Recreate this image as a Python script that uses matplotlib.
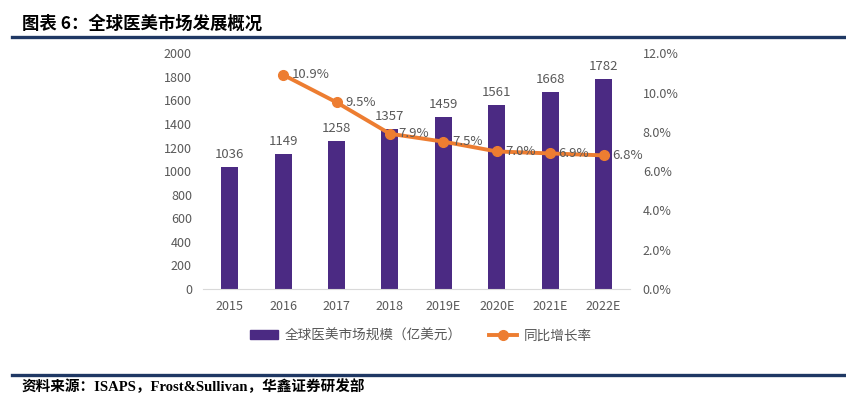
import numpy as np
import matplotlib.pyplot as plt
from matplotlib.lines import Line2D
from matplotlib.patches import Patch

plt.rcParams['font.family'] = ['Noto Sans CJK SC', 'DejaVu Sans']

# data
years = ['2015', '2016', '2017', '2018', '2019E', '2020E', '2021E', '2022E']
market = [1036, 1149, 1258, 1357, 1459, 1561, 1668, 1782]
growth = [None, 10.9, 9.5, 7.9, 7.5, 7.0, 6.9, 6.8]

bar_color = '#4B2A83'
line_color = '#ED7D31'
txt = '#595959'

fig = plt.figure(figsize=(8.46, 3.97), dpi=100)
ax = fig.add_axes([0.24, 0.272, 0.505, 0.594])
x = np.arange(len(years))
ax.bar(x, market, width=0.32, color=bar_color, zorder=2)
for xi, v in zip(x, market):
    ax.text(xi, v + 50, str(v), ha='center', va='bottom', fontsize=9.5, color=txt)
ax.set_ylim(0, 2000)
ax.set_yticks(range(0, 2001, 200))
ax.set_xlim(-0.5, len(years) - 0.5)
ax.set_xticks(x)
ax.set_xticklabels(years)
ax.tick_params(axis='both', length=0, labelsize=9, colors=txt)
ax.tick_params(axis='x', pad=8)
ax.tick_params(axis='y', pad=8)
for s in ['top', 'right', 'left']:
    ax.spines[s].set_visible(False)
ax.spines['bottom'].set_color('#D9D9D9')

ax2 = ax.twinx()
gx = [xi for xi, g in zip(x, growth) if g is not None]
gy = [g for g in growth if g is not None]
ax2.plot(gx, gy, color=line_color, lw=2.8, marker='o', ms=7, zorder=3)
for xi, g in zip(gx, gy):
    ax2.text(xi + 0.16, g, f'{g:.1f}%', ha='left', va='center', fontsize=9.5, color=txt)
ax2.set_ylim(0, 12)
ax2.set_yticks(np.arange(0, 12.1, 2))
ax2.set_yticklabels([f'{v:.1f}%' for v in np.arange(0, 12.1, 2)])
ax2.tick_params(axis='y', length=0, labelsize=9, colors=txt, pad=9)
for s in ['top', 'right', 'left', 'bottom']:
    ax2.spines[s].set_visible(False)

handles = [Patch(color=bar_color),
           Line2D([], [], color=line_color, lw=2.8, marker='o', ms=7)]
labels = ['全球医美市场规模（亿美元）', '同比增长率']
fig.legend(handles, labels, loc='center', bbox_to_anchor=(0.497, 0.155), ncol=2,
           frameon=False, fontsize=9.8, labelcolor=txt, handlelength=2.1,
           columnspacing=2.0, handletextpad=0.45)

# title and source
fig.text(0.026, 0.94, '图表 6：全球医美市场发展概况', fontsize=12.5, fontweight='bold',
         ha='left', va='center', color='black')
fig.add_artist(Line2D([0.014, 1.0], [0.907, 0.907], color='#1F3864', lw=2.4))
fig.add_artist(Line2D([0.014, 1.0], [0.055, 0.055], color='#1F3864', lw=2.4))
fig.text(0.026, 0.027, '资料来源：ISAPS，Frost&Sullivan，华鑫证券研发部', fontsize=10.5,
         fontweight='bold', ha='left', va='center', color='black',
         family=['Liberation Serif', 'Noto Sans CJK SC'])

fig.savefig('out.png', dpi=100)
